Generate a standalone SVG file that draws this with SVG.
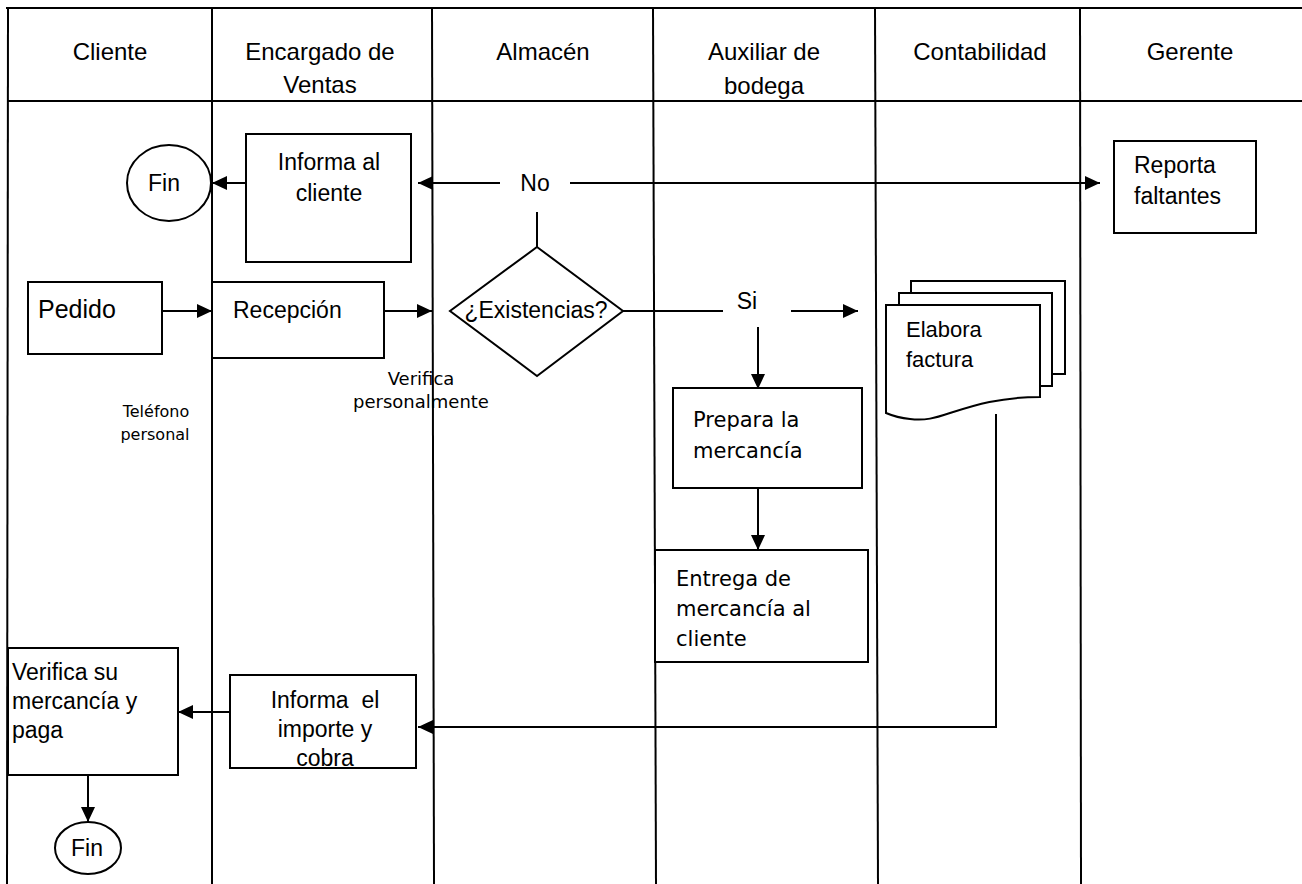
<svg xmlns="http://www.w3.org/2000/svg" width="1302" height="884" viewBox="0 0 1302 884">
  <style>
    .ln { stroke: #000; stroke-width: 2; fill: none; }
    .box { stroke: #000; stroke-width: 2; fill: #fff; }
    .hd { font-family: "Liberation Sans", Arial, sans-serif; font-size: 24px; fill: #000; text-anchor: middle; }
    .tx { font-family: "Liberation Sans", Arial, sans-serif; font-size: 23px; fill: #000; }
    .tv { font-family: "DejaVu Sans", Verdana, sans-serif; font-size: 21px; fill: #000; }
    .sm { font-family: "DejaVu Sans", Verdana, sans-serif; font-size: 16px; fill: #000; }
    .mid { text-anchor: middle; }
  </style>
  <defs>
    <marker id="arr" viewBox="0 0 15 14" refX="15" refY="7" markerWidth="15" markerHeight="14" markerUnits="userSpaceOnUse" orient="auto">
      <path d="M0,0 L15,7 L0,14 Z" fill="#000"/>
    </marker>
    <clipPath id="hdclip">
      <rect x="0" y="0" width="1302" height="100"/>
    </clipPath>
  </defs>

  <rect width="1302" height="884" fill="#fff"/>

  <!-- swimlane frame -->
  <g id="lanes">
    <line class="ln" x1="6" y1="8" x2="1302" y2="8"/>
    <line class="ln" x1="8" y1="101" x2="1302" y2="101"/>
    <line class="ln" x1="8" y1="8" x2="7" y2="884"/>
    <line class="ln" x1="212" y1="8" x2="212" y2="884"/>
    <line class="ln" x1="432" y1="8" x2="434" y2="884"/>
    <line class="ln" x1="653" y1="8" x2="656" y2="884"/>
    <line class="ln" x1="875" y1="8" x2="878" y2="884"/>
    <line class="ln" x1="1080" y1="8" x2="1081" y2="884"/>
    <g clip-path="url(#hdclip)">
      <text class="hd" x="110" y="60">Cliente</text>
      <text class="hd" x="320" y="60">Encargado de</text>
      <text class="hd" x="320" y="93">Ventas</text>
      <text class="hd" x="543" y="60">Almacén</text>
      <text class="hd" x="764" y="60">Auxiliar de</text>
      <text class="hd" x="764" y="94">bodega</text>
      <text class="hd" x="980" y="60">Contabilidad</text>
      <text class="hd" x="1190" y="60">Gerente</text>
    </g>
  </g>

  <!-- connectors -->
  <g id="connectors">
    <line class="ln" x1="246" y1="183" x2="212" y2="183" marker-end="url(#arr)"/>
    <line class="ln" x1="500" y1="183" x2="418" y2="183" marker-end="url(#arr)"/>
    <line class="ln" x1="570" y1="183" x2="1100" y2="183" marker-end="url(#arr)"/>
    <line class="ln" x1="537" y1="212" x2="537" y2="247"/>
    <line class="ln" x1="162" y1="311" x2="212" y2="311" marker-end="url(#arr)"/>
    <line class="ln" x1="384" y1="311" x2="432" y2="311" marker-end="url(#arr)"/>
    <line class="ln" x1="623" y1="311" x2="723" y2="311"/>
    <line class="ln" x1="791" y1="311" x2="858" y2="311" marker-end="url(#arr)"/>
    <line class="ln" x1="758" y1="327" x2="758" y2="389" marker-end="url(#arr)"/>
    <line class="ln" x1="758" y1="488" x2="758" y2="550" marker-end="url(#arr)"/>
    <polyline class="ln" points="996,414 996,727 418,727" marker-end="url(#arr)"/>
    <line class="ln" x1="230" y1="712" x2="178" y2="712" marker-end="url(#arr)"/>
    <line class="ln" x1="88" y1="775" x2="88" y2="822" marker-end="url(#arr)"/>
    <text class="tx mid" x="535" y="191">No</text>
    <text class="tx mid" x="747" y="309">Si</text>
    <text class="sm mid" x="421" y="385" style="font-size:18px">Verifica</text>
    <text class="sm mid" x="421" y="408" style="font-size:18px">personalmente</text>
    <text class="sm mid" x="156" y="417">Teléfono</text>
    <text class="sm mid" x="155" y="440">personal</text>
  </g>

  <g id="fin-top">
    <ellipse class="box" cx="169" cy="183" rx="42" ry="38"/>
    <text class="tx mid" x="164" y="191">Fin</text>
  </g>

  <g id="informa-cliente">
    <rect class="box" x="246" y="134" width="165" height="128"/>
    <text class="tx mid" x="329" y="170">Informa al</text>
    <text class="tx mid" x="329" y="201">cliente</text>
  </g>

  <g id="reporta-faltantes">
    <rect class="box" x="1114" y="141" width="142" height="92"/>
    <text class="tx" x="1134" y="173">Reporta</text>
    <text class="tx" x="1134" y="204">faltantes</text>
  </g>

  <g id="pedido">
    <rect class="box" x="28" y="282" width="134" height="72"/>
    <text class="tx" x="38" y="318" style="font-size:25px">Pedido</text>
  </g>

  <g id="recepcion">
    <rect class="box" x="212" y="282" width="172" height="76"/>
    <text class="tx" x="233" y="318">Recepción</text>
  </g>

  <g id="existencias">
    <polygon class="box" points="537,247 623,311 537,376 450,311"/>
    <text class="tx mid" x="536" y="318">¿Existencias?</text>
  </g>

  <g id="elabora-factura">
    <rect class="box" x="911" y="281" width="154" height="93"/>
    <rect class="box" x="899" y="293" width="153" height="93"/>
    <path class="box" d="M886,305 L1040,305 L1040,397 C1000,397 975,405 950,413 C935,418 925,421 910,419 C900,418 893,416 886,413 Z"/>
    <text class="tx" x="906" y="337" style="font-size:22px">Elabora</text>
    <text class="tx" x="906" y="367" style="font-size:22px">factura</text>
  </g>

  <g id="prepara-mercancia">
    <rect class="box" x="673" y="388" width="189" height="100"/>
    <text class="tv" x="693" y="427">Prepara la</text>
    <text class="tv" x="693" y="458">mercancía</text>
  </g>

  <g id="entrega-mercancia">
    <rect class="box" x="655" y="550" width="213" height="112"/>
    <text class="tv" x="676" y="586">Entrega de</text>
    <text class="tv" x="676" y="616">mercancía al</text>
    <text class="tv" x="676" y="646">cliente</text>
  </g>

  <g id="informa-importe">
    <rect class="box" x="230" y="675" width="186" height="93"/>
    <text class="tx mid" x="325" y="708" xml:space="preserve">Informa  el</text>
    <text class="tx mid" x="325" y="737">importe y</text>
    <text class="tx mid" x="325" y="766">cobra</text>
  </g>

  <g id="verifica-paga">
    <rect class="box" x="8" y="648" width="170" height="127"/>
    <text class="tx" x="12" y="680">Verifica su</text>
    <text class="tx" x="12" y="709">mercancía y</text>
    <text class="tx" x="12" y="738">paga</text>
  </g>

  <g id="fin-bottom">
    <ellipse class="box" cx="88" cy="848" rx="33" ry="26"/>
    <text class="tx mid" x="87" y="856">Fin</text>
  </g>
</svg>
